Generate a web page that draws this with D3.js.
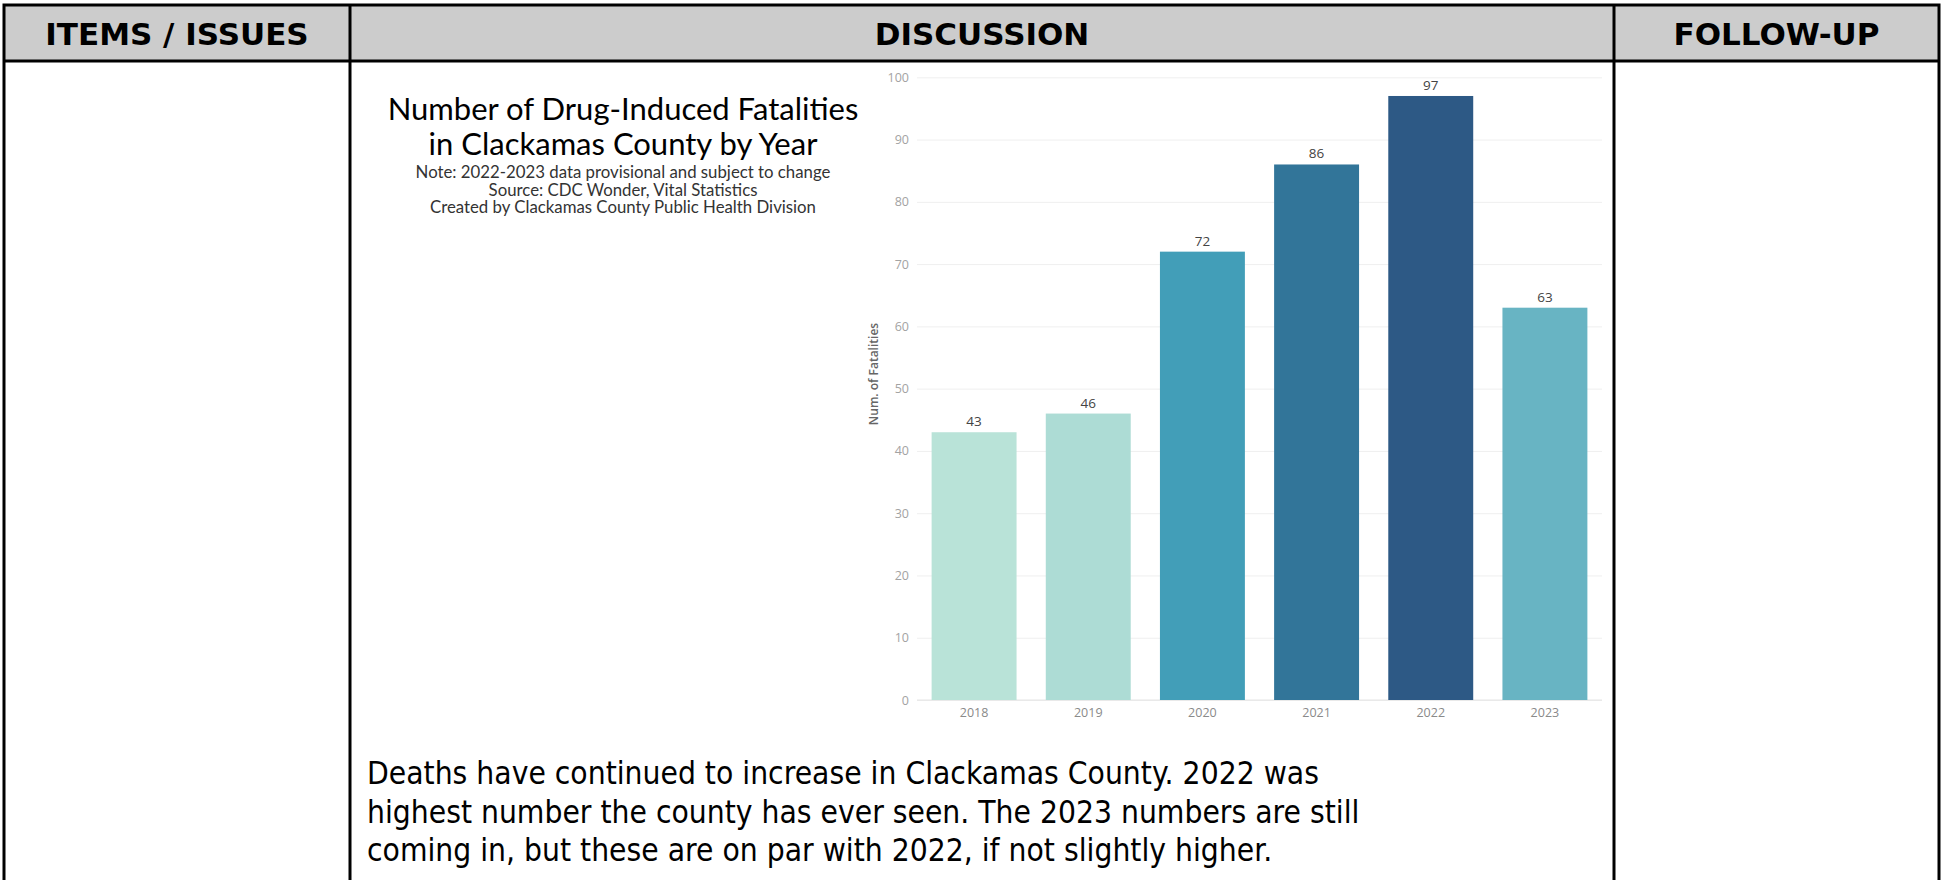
<!DOCTYPE html>
<html>
<head>
<meta charset="utf-8">
<script src="https://cdn.jsdelivr.net/npm/d3@7"></script>
<style>
  html, body { margin: 0; padding: 0; background: #ffffff; }
  svg { display: block; }
</style>
</head>
<body>
<svg id="page" width="1942" height="880"></svg>
<script>
// ---- Data -------------------------------------------------------------
const years = ["2018", "2019", "2020", "2021", "2022", "2023"];
const fatalities = [43, 46, 72, 86, 97, 63];
const barColors = ["#b9e3d8", "#addcd5", "#429eb8", "#327599", "#2d5985", "#68b4c3"];
const yTicks = [0, 10, 20, 30, 40, 50, 60, 70, 80, 90, 100];

const headers = ["ITEMS / ISSUES", "DISCUSSION", "FOLLOW-UP"];
const titleLines = ["Number of Drug-Induced Fatalities", "in Clackamas County by Year"];
const noteLines = [
  "Note: 2022-2023 data provisional and subject to change",
  "Source: CDC Wonder, Vital Statistics",
  "Created by Clackamas County Public Health Division"
];
const discussionLines = [
  "Deaths have continued to increase in Clackamas County. 2022 was",
  "highest number the county has ever seen. The 2023 numbers are still",
  "coming in, but these are on par with 2022, if not slightly higher."
];

// ---- Page layout --------------------------------------------------------
const svg = d3.select("#page");
const tbl = { left: 4, right: 1939, top: 5, headBottom: 61, bottom: 900 };
const colX = [tbl.left, 350, 1614, tbl.right];

// header band
svg.append("rect")
  .attr("x", tbl.left).attr("y", tbl.top)
  .attr("width", tbl.right - tbl.left).attr("height", tbl.headBottom - tbl.top)
  .attr("fill", "#cccccc");

// header labels
svg.selectAll("text.head").data(headers).join("text")
  .attr("class", "head")
  .attr("x", (d, i) => (colX[i] + colX[i + 1]) / 2)
  .attr("y", 45)
  .attr("text-anchor", "middle")
  .attr("font-family", "'DejaVu Sans', Verdana, sans-serif")
  .attr("font-weight", "bold")
  .attr("font-size", 31)
  .attr("fill", "#000")
  .text(d => d);

// table rules
const rules = svg.append("g").attr("stroke", "#000").attr("stroke-width", 3).attr("fill", "none");
rules.append("rect")
  .attr("x", tbl.left).attr("y", tbl.top)
  .attr("width", tbl.right - tbl.left).attr("height", tbl.bottom - tbl.top);
rules.append("line")
  .attr("x1", tbl.left).attr("x2", tbl.right)
  .attr("y1", tbl.headBottom).attr("y2", tbl.headBottom);
colX.slice(1, 3).forEach(x => {
  rules.append("line").attr("x1", x).attr("x2", x).attr("y1", tbl.top).attr("y2", tbl.bottom);
});

// ---- Chart title block ----------------------------------------------------
const titleX = 623;
svg.selectAll("text.title").data(titleLines).join("text")
  .attr("class", "title")
  .attr("x", titleX)
  .attr("y", (d, i) => 120 + i * 35)
  .attr("text-anchor", "middle")
  .attr("font-family", "Lato, 'Open Sans', sans-serif")
  .attr("font-size", 31)
  .attr("fill", "#000")
  .text(d => d);

svg.selectAll("text.note").data(noteLines).join("text")
  .attr("class", "note")
  .attr("x", titleX)
  .attr("y", (d, i) => 178 + i * 17.5)
  .attr("text-anchor", "middle")
  .attr("font-family", "Lato, 'Open Sans', sans-serif")
  .attr("font-size", 16.8)
  .attr("fill", "#333")
  .text(d => d);

// ---- Bar chart ----------------------------------------------------------------
const plot = { left: 917, right: 1602, top: 77.3, bottom: 700 };

const x = d3.scaleBand()
  .domain(years)
  .range([plot.left, plot.right])
  .paddingInner(0.256)
  .paddingOuter(0.128);

const y = d3.scaleLinear()
  .domain([0, 100])
  .range([plot.bottom, plot.top]);

const chart = svg.append("g");

// gridlines
chart.append("g")
  .attr("transform", `translate(${plot.left},0)`)
  .call(d3.axisLeft(y).tickValues(yTicks).tickSize(-(plot.right - plot.left)).tickFormat(""))
  .call(g => g.select(".domain").remove())
  .call(g => g.selectAll("line").attr("stroke", "#efefef").attr("stroke-width", 1));

// y axis labels
chart.append("g")
  .attr("transform", `translate(${plot.left},0)`)
  .call(d3.axisLeft(y).tickValues(yTicks).tickSize(0).tickPadding(8))
  .call(g => g.select(".domain").remove())
  .call(g => g.selectAll("text")
    .attr("font-family", "'Open Sans', sans-serif")
    .attr("font-size", 12.5)
    .attr("fill", "#a3a3a3"));

// zero line
chart.append("line")
  .attr("x1", plot.left).attr("x2", plot.right)
  .attr("y1", y(0)).attr("y2", y(0))
  .attr("stroke", "#e4e4e4").attr("stroke-width", 1);

// bars
chart.selectAll("rect.bar").data(years).join("rect")
  .attr("class", "bar")
  .attr("x", d => x(d))
  .attr("width", x.bandwidth())
  .attr("y", (d, i) => y(fatalities[i]))
  .attr("height", (d, i) => y(0) - y(fatalities[i]))
  .attr("fill", (d, i) => barColors[i]);

// value labels
chart.selectAll("text.val").data(years).join("text")
  .attr("class", "val")
  .attr("x", d => x(d) + x.bandwidth() / 2)
  .attr("y", (d, i) => y(fatalities[i]) - 6)
  .attr("text-anchor", "middle")
  .attr("font-family", "'Open Sans', sans-serif")
  .attr("font-size", 13.5)
  .attr("fill", "#444")
  .text((d, i) => fatalities[i]);

// x axis labels
chart.append("g")
  .attr("transform", `translate(0,${plot.bottom})`)
  .call(d3.axisBottom(x).tickSize(0).tickPadding(8))
  .call(g => g.select(".domain").remove())
  .call(g => g.selectAll("text")
    .attr("font-family", "'Open Sans', sans-serif")
    .attr("font-size", 12.5)
    .attr("fill", "#8a8a8a"));

// y axis title
chart.append("text")
  .attr("transform", "translate(878,374) rotate(-90)")
  .attr("text-anchor", "middle")
  .attr("font-family", "'Open Sans', sans-serif")
  .attr("font-weight", 600)
  .attr("font-size", 12)
  .attr("fill", "#666")
  .text("Num. of Fatalities");

// ---- Discussion text -------------------------------------------------------------
// set narrower than the sans face's default width
const body = svg.append("g").attr("transform", "translate(367,0) scale(0.885,1)");
body.selectAll("text.body").data(discussionLines).join("text")
  .attr("class", "body")
  .attr("x", 0)
  .attr("y", (d, i) => 784.5 + i * 38.5)
  .attr("font-family", "'DejaVu Sans', Verdana, sans-serif")
  .attr("font-size", 32)
  .attr("fill", "#000")
  .text(d => d);
</script>
</body>
</html>
